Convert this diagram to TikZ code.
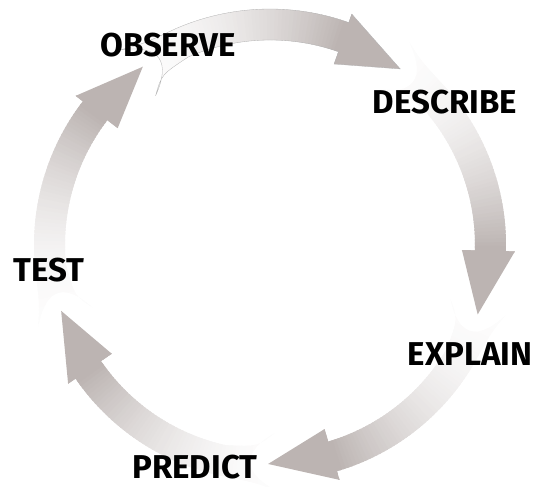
\documentclass[tikz,border=0pt]{standalone}
\usepackage{fontspec}
\setmainfont{Fira Sans}
\definecolor{arrowgray}{RGB}{188,180,178}
\tikzset{
  steplabel/.style={font=\fontsize{33}{36}\selectfont\bfseries, inner sep=0pt},
  arrowline/.style={draw=black!30, line width=0.3pt},
}
\begin{document}
\begin{tikzpicture}[x=1pt,y=1pt]
  \useasboundingbox (0,0) rectangle (538,487);
  \coordinate (c) at (270,242);
  % five curved arrows round the centre, tips 72 degrees apart
  \begin{scope}[shift={(c)}]
    \foreach \t [count=\k] in {53.5,-18.5,-90.5,-162.5,125.5}{
      \pgfmathsetmacro\a{\t+74}
      \pgfmathsetmacro\b{\t+17}
      \pgfmathsetmacro\s{\a-14}
      \def\arrowpath{(\a:246) .. controls (\a-5:238) .. (\s:236)
        arc[start angle=\s, end angle=\b, radius=236]
        -- (\b:245) -- (\t:219) -- (\b:192) -- (\b:205)
        arc[start angle=\b, end angle=\s, radius=205]
        .. controls (\a-5:202) .. (\a:188)
        .. controls (\a-9:208) and (\a-9:228) .. cycle}
      \begin{scope}
        \clip \arrowpath;
        \foreach \j in {0,...,59}{
          \pgfmathsetmacro\u{\a-\j*(\a-\b)/60+0.3}
          \pgfmathsetmacro\v{\a-(\j+1)*(\a-\b)/60-0.3}
          \pgfmathtruncatemacro\p{min(100,4+96*(\j/59)^1.8)}
          \fill[arrowgray!\p!white] (0,0) -- (\u:260)
            arc[start angle=\u, end angle=\v, radius=260] -- cycle;
        }
        \pgfmathsetmacro\e{\t-6}
        \fill[arrowgray] (0,0) -- (\b:260)
          arc[start angle=\b, end angle=\e, radius=260] -- cycle;
      \end{scope}
      \ifnum\k=1 \path[arrowline] \arrowpath; \fi
    }
  \end{scope}
  \node[steplabel] (observe) at (168,442) {OBSERVE};
  \node[steplabel] (describe) at (445,385) {DESCRIBE};
  \node[steplabel] (explain) at (470,133) {EXPLAIN};
  \node[steplabel] (predict) at (195,20) {PREDICT};
  \node[steplabel] (test) at (49,217) {TEST};
\end{tikzpicture}
\end{document}
